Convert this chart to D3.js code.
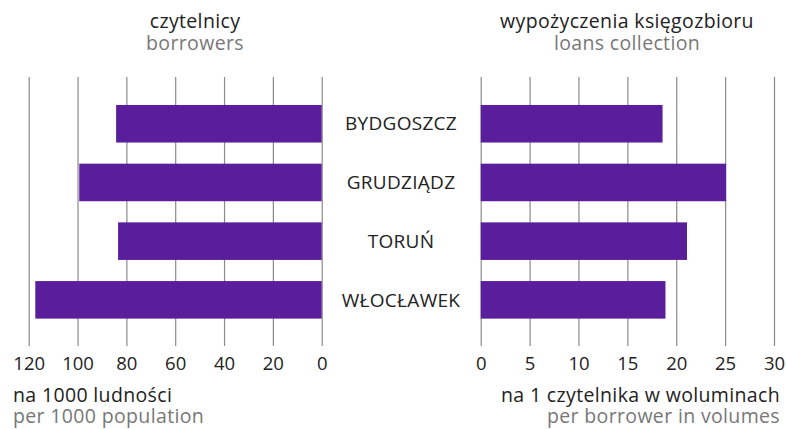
<!DOCTYPE html>
<html>
<head>
<meta charset="utf-8">
<script src="https://cdn.jsdelivr.net/npm/d3@7"></script>
<style>
  body { margin: 0; background: #fff; }
  svg text { font-family: "Open Sans", "Noto Sans", sans-serif; }
</style>
</head>
<body>
<div id="chart"></div>
<script>
  // Data
  const cities = ['BYDGOSZCZ', 'GRUDZIĄDZ', 'TORUŃ', 'WŁOCŁAWEK'];
  const borrowers = [84.2, 99.3, 83.4, 117.3];   // per 1000 population
  const loans = [18.6, 25.1, 21.1, 18.9];        // per borrower in volumes
  const leftTicks = [0, 20, 40, 60, 80, 100, 120];
  const rightTicks = [0, 5, 10, 15, 20, 25, 30];

  const width = 786, height = 429;
  const barColor = '#5a1e9c';
  const gridTop = 77, gridBottom = 346;

  const svg = d3.select('#chart')
    .append('svg')
    .attr('width', width)
    .attr('height', height);

  const xL = d3.scaleLinear().domain([0, 120]).range([321.7, 28.7]);
  const xR = d3.scaleLinear().domain([0, 30]).range([480.7, 774]);
  const y = d3.scaleBand()
    .domain(cities)
    .range([94.4, 329.2])
    .paddingInner(0.36)
    .paddingOuter(0.18);

  // grid lines + tick labels
  function axis(scale, ticks) {
    const g = svg.append('g')
      .attr('transform', `translate(0,${gridBottom})`)
      .call(d3.axisBottom(scale).tickValues(ticks).tickSize(-(gridBottom - gridTop)).tickPadding(11));
    g.select('.domain').remove();
    g.selectAll('.tick line').attr('stroke', '#8a8a8a').attr('stroke-width', 1.2);
    g.selectAll('.tick text')
      .attr('fill', '#222')
      .style('font-size', '18.5px');
  }
  axis(xL, leftTicks);
  axis(xR, rightTicks);

  // left bars
  svg.selectAll('.bar-left')
    .data(cities)
    .enter()
    .append('rect')
    .attr('class', 'bar-left')
    .attr('x', (d, i) => xL(borrowers[i]))
    .attr('y', d => y(d))
    .attr('width', (d, i) => xL(0) - xL(borrowers[i]))
    .attr('height', y.bandwidth())
    .attr('fill', barColor);

  // right bars
  svg.selectAll('.bar-right')
    .data(cities)
    .enter()
    .append('rect')
    .attr('class', 'bar-right')
    .attr('x', xR(0))
    .attr('y', d => y(d))
    .attr('width', (d, i) => xR(loans[i]) - xR(0))
    .attr('height', y.bandwidth())
    .attr('fill', barColor);

  // city labels
  svg.selectAll('.city')
    .data(cities)
    .enter()
    .append('text')
    .attr('class', 'city')
    .attr('x', 401)
    .attr('y', d => y(d) + y.bandwidth() / 2)
    .attr('dy', '0.35em')
    .attr('text-anchor', 'middle')
    .attr('fill', '#222')
    .style('font-size', '19px')
    .style('letter-spacing', '0.3px')
    .text(d => d);

  // titles
  function label(x, yy, txt, anchor, color) {
    svg.append('text')
      .attr('x', x)
      .attr('y', yy)
      .attr('text-anchor', anchor)
      .attr('fill', color)
      .style('font-size', '19.5px')
      .style('letter-spacing', '0.35px')
      .text(txt);
  }
  label(195, 28, 'czytelnicy', 'middle', '#222');
  label(195, 50, 'borrowers', 'middle', '#777');
  label(627, 28, 'wypożyczenia księgozbioru', 'middle', '#222');
  label(627, 50, 'loans collection', 'middle', '#777');

  label(13, 402, 'na 1000 ludności', 'start', '#222');
  label(13, 423, 'per 1000 population', 'start', '#777');
  label(780, 402, 'na 1 czytelnika w woluminach', 'end', '#222');
  label(780, 423, 'per borrower in volumes', 'end', '#777');
</script>
</body>
</html>
